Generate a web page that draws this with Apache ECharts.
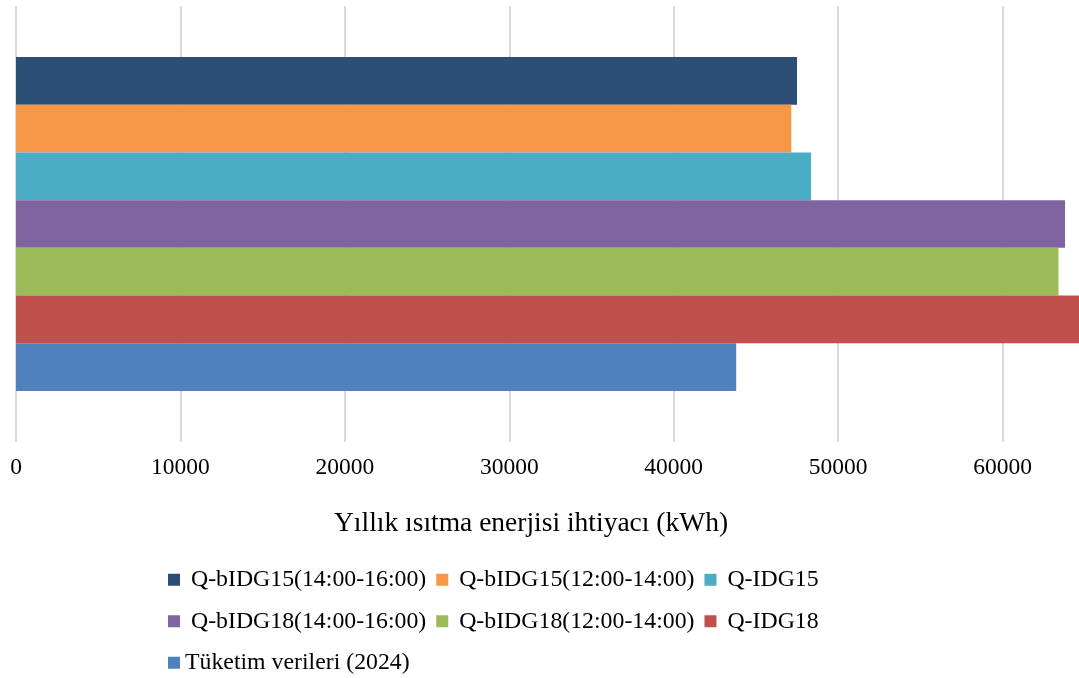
<!DOCTYPE html>
<html>
<head>
<meta charset="utf-8">
<script src="https://cdn.jsdelivr.net/npm/echarts@6/dist/echarts.min.js"></script>
<style>html,body{margin:0;padding:0;background:#fff}#c{width:1079px;height:678px}</style>
</head>
<body>
<div id="c"></div>
<script>
const categories = [''];
const seriesNames = [
  'Q-bIDG15(14:00-16:00)',
  'Q-bIDG15(12:00-14:00)',
  'Q-IDG15',
  'Q-bIDG18(14:00-16:00)',
  'Q-bIDG18(12:00-14:00)',
  'Q-IDG18',
  'Tüketim verileri (2024)'
];
const qbIDG15_1416 = [47500];
const qbIDG15_1214 = [47150];
const qIDG15 = [48350];
const qbIDG18_1416 = [63800];
const qbIDG18_1214 = [63400];
const qIDG18 = [65000];
const tuketim2024 = [43800];
const seriesValues = [qbIDG15_1416, qbIDG15_1214, qIDG15, qbIDG18_1416, qbIDG18_1214, qIDG18, tuketim2024];
const colors = ['#2C4D75', '#F79646', '#4BACC6', '#8064A2', '#9BBB59', '#C0504D', '#4F81BD'];
const axisTitle = 'Yıllık ısıtma enerjisi ihtiyacı (kWh)';

const font = 'Liberation Serif, Times New Roman, serif';
const chart = echarts.init(document.getElementById('c'));
chart.setOption({
  animation: false,
  backgroundColor: '#fff',
  color: colors,
  title: {
    text: axisTitle,
    left: 329, top: 505,
    textStyle: {fontFamily: font, fontSize: 27.5, fontWeight: 'normal', color: '#000'}
  },
  grid: {left: 16, right: -88, top: 6, bottom: 236, containLabel: false, outerBoundsMode: 'none'},
  xAxis: {
    type: 'value', min: 0, max: 70000, interval: 10000,
    axisLine: {show: false}, axisTick: {show: false},
    splitLine: {show: true, lineStyle: {color: '#d9d9d9', width: 2}},
    axisLabel: {fontFamily: font, fontSize: 23.5, color: '#000', margin: 14, formatter: v => String(v)}
  },
  yAxis: {
    type: 'category', data: categories,
    axisLine: {show: false}, axisTick: {show: false}, axisLabel: {show: false}
  },
  legend: {
    data: seriesNames,
    left: 163, top: 559, width: 700,
    itemWidth: 12, itemHeight: 12, itemGap: 10,
    icon: 'rect',
    formatter: n => (n[0] === 'Q' ? ' ' : '') + n,
    textStyle: {fontFamily: font, fontSize: 23.8, color: '#000', lineHeight: 31.5}
  },
  series: seriesNames.map((name, i) => ({
    name: name, type: 'bar', data: seriesValues[i],
    barGap: '0%', barCategoryGap: '23.4%',
    itemStyle: {color: colors[i]}
  }))
});
</script>
</body>
</html>
